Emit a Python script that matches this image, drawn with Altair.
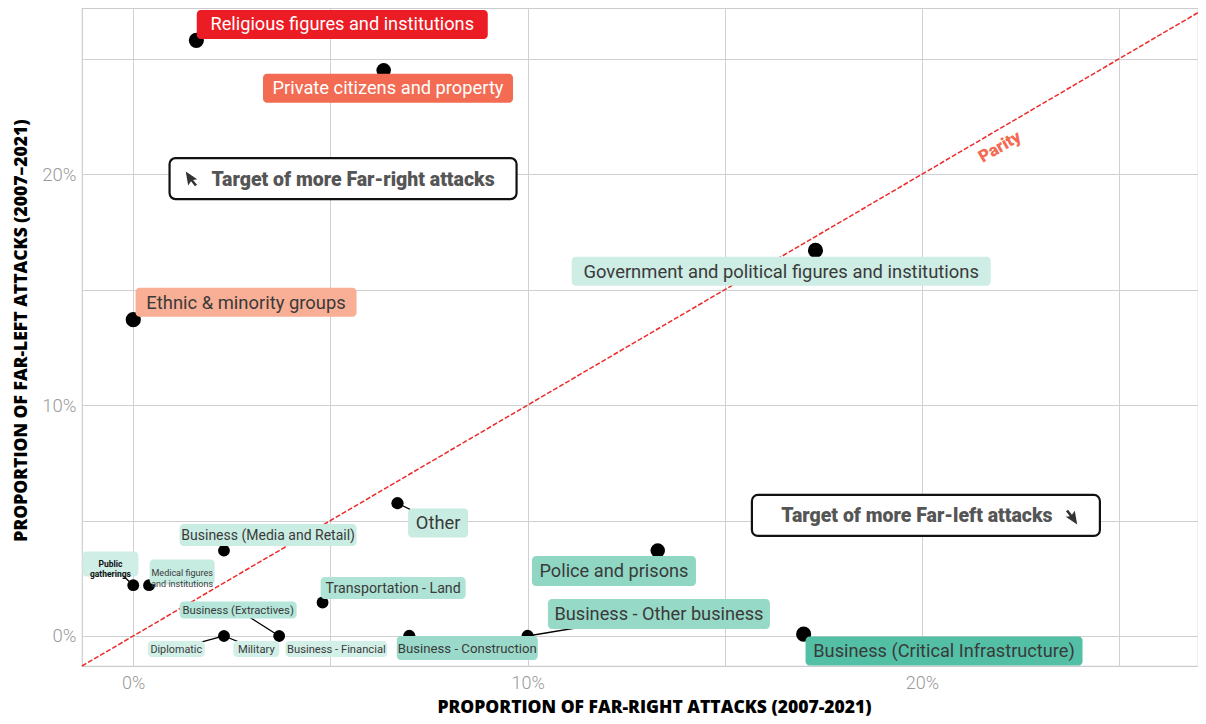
import altair as alt
import pandas as pd

# ---------------- data ----------------
categories = [
    "Religious figures and institutions",
    "Private citizens and property",
    "Ethnic & minority groups",
    "Government and political figures and institutions",
    "Other",
    "Business (Media and Retail)",
    "Public gatherings",
    "Medical figures and institutions",
    "Business (Extractives)",
    "Transportation - Land",
    "Diplomatic",
    "Military",
    "Business - Financial",
    "Business - Construction",
    "Business - Other business",
    "Police and prisons",
    "Business (Critical Infrastructure)",
]
# proportion of far-right attacks (%), x
far_right = [1.6, 6.35, 0.0, 17.3, 6.7, 2.3, 0.0, 0.4, 3.7, 4.8, 2.3, 2.3, 3.7, 7.0, 10.0, 13.3, 17.0]
# proportion of far-left attacks (%), y
far_left = [25.8, 24.5, 13.7, 16.7, 5.75, 3.7, 2.2, 2.2, 0.0, 1.45, 0.0, 0.0, 0.0, 0.0, 0.0, 3.7, 0.08]

# label text shown (line breaks for small two-line labels)
label_text = [
    "Religious figures and institutions",
    "Private citizens and property",
    "Ethnic & minority groups",
    "Government and political figures and institutions",
    "Other",
    "Business (Media and Retail)",
    "Public\ngatherings",
    "Medical figures\nand institutions",
    "Business (Extractives)",
    "Transportation - Land",
    "Diplomatic",
    "Military",
    "Business - Financial",
    "Business - Construction",
    "Business - Other business",
    "Police and prisons",
    "Business (Critical Infrastructure)",
]
# repelled label anchor positions (data units)
label_x = [5.30, 6.46, 2.86, 16.43, 7.73, 3.42, -0.58, 1.24, 2.66, 6.59, 1.09, 3.12, 5.15, 8.47, 13.33, 12.19, 20.56]
label_y = [26.49, 23.72, 14.46, 15.80, 4.89, 4.37, 3.12, 2.77, 1.13, 2.08, -0.56, -0.56, -0.56, -0.52, 0.95, 2.81, -0.65]
draw_segment = [False, False, False, False, True, False, True, False, True, False, True, True, False, False, True, False, False]

# styles
label_fill = ["#EC1C24", "#F26B52", "#F9AF95", "#CDEDE5", "#C8ECE2", "#CAEDE3", "#CFEEE6", "#C6EBE1",
              "#B5E6D9", "#AEE3D5", "#D3F0E8", "#D3F0E8", "#D3F0E8", "#9BDACA", "#97D9C7", "#8FD7C3", "#53C0A6"]
label_color = ["#FFFFFF", "#FFFFFF"] + ["#3A3A3A"] * 15
label_fs = [18.2, 18.3, 18.4, 18.4, 18.3, 14, 8.5, 9, 11.3, 14.2, 10.8, 11.2, 11.2, 13.2, 18.2, 18.2, 18.2]
label_bold = [False] * 6 + [True] + [False] * 10
box_w = [291, 250, 221, 419, 60, 177, 56, 65, 117, 145, 57, 46, 102, 141, 222, 164, 277]
box_h = [29, 29, 29, 29, 29, 22, 25, 25, 17, 22, 16, 16, 16, 24, 30, 30, 29]
point_size = [230, 210, 230, 230, 150, 140, 140, 140, 130, 140, 130, 130, 130, 150, 150, 210, 230]

X_DOMAIN = [-1.3, 27.0]
Y_DOMAIN = [-1.3, 27.2]


def rrect(w, h, r=4):
    x0, y0 = -w / 2, -h / 2
    x1, y1 = w / 2, h / 2
    return (f"M{x0 + r},{y0}H{x1 - r}A{r},{r} 0 0 1 {x1},{y0 + r}V{y1 - r}"
            f"A{r},{r} 0 0 1 {x1 - r},{y1}H{x0 + r}A{r},{r} 0 0 1 {x0},{y1 - r}"
            f"V{y0 + r}A{r},{r} 0 0 1 {x0 + r},{y0}Z")


df = pd.DataFrame({
    "category": categories,
    "far_right": far_right,
    "far_left": far_left,
    "label": label_text,
    "lx": label_x,
    "ly": label_y,
    "seg": draw_segment,
    "bold": label_bold,
    "fill": label_fill,
    "tcol": label_color,
    "fs": label_fs,
    "path": [rrect(w, h) for w, h in zip(box_w, box_h)],
    "psize": point_size,
})

ticks = [0, 5, 10, 15, 20, 25]
label_expr = "datum.value % 10 === 0 ? datum.value + '%' : ''"
TITLE_FONT = "'Open Sans', Lato, sans-serif"

x_axis = alt.Axis(values=ticks, labelExpr=label_expr, grid=True, gridColor="#d0d0d0", gridWidth=1,
                  ticks=False, domain=False, labelFont="Roboto", labelFontSize=18, labelFontWeight=300,
                  labelColor="#9a9a9a", labelPadding=8,
                  title="PROPORTION OF FAR-RIGHT ATTACKS (2007-2021)", titleFont=TITLE_FONT,
                  titleFontSize=17.5, titleFontWeight=800, titleColor="#000000",
                  titleX=572, titleY=41, titleBaseline="middle", titleAlign="center")
y_axis = alt.Axis(values=ticks, labelExpr=label_expr, grid=True, gridColor="#d0d0d0", gridWidth=1,
                  ticks=False, domain=False, labelFont="Roboto", labelFontSize=18.5, labelFontWeight=300,
                  labelColor="#9a9a9a", labelPadding=6,
                  title="PROPORTION OF FAR-LEFT ATTACKS (2007–2021)", titleFont=TITLE_FONT,
                  titleFontSize=17.5, titleFontWeight=800, titleColor="#000000",
                  titleAngle=270, titleX=-61, titleY=322, titleBaseline="middle", titleAlign="center")

xs = alt.Scale(domain=X_DOMAIN, nice=False, zero=False)
ys = alt.Scale(domain=Y_DOMAIN, nice=False, zero=False)


def X(field):
    return alt.X(f"{field}:Q", scale=xs, axis=x_axis)


def Y(field):
    return alt.Y(f"{field}:Q", scale=ys, axis=y_axis)


# parity line
parity_df = pd.DataFrame({"far_right": X_DOMAIN, "far_left": X_DOMAIN})
parity = alt.Chart(parity_df).mark_line(color="#EE2A2A", strokeWidth=1.5, strokeDash=[5, 2]).encode(
    x=X("far_right"), y=Y("far_left"))

parity_lbl = alt.Chart(pd.DataFrame({"far_right": [21.98], "far_left": [21.17], "t": ["Parity"]})).mark_text(
    font="Roboto", fontSize=17, fontWeight=900, color="#F26B52", angle=329.6,
    align="center", baseline="middle").encode(x=X("far_right"), y=Y("far_left"), text="t:N")

segments = alt.Chart(df).transform_filter("datum.seg").mark_rule(color="#000000", strokeWidth=1.3).encode(
    x=X("far_right"), y=Y("far_left"), x2="lx:Q", y2="ly:Q")

points = alt.Chart(df).mark_circle(color="#000000", opacity=1).encode(
    x=X("far_right"), y=Y("far_left"), size=alt.Size("psize:Q", scale=None))

boxes = alt.Chart(df).mark_point(filled=True, size=4, opacity=1, strokeWidth=0).encode(
    x=X("lx"), y=Y("ly"),
    shape=alt.Shape("path:N", scale=None),
    color=alt.Color("fill:N", scale=None))

texts = alt.Chart(df).transform_filter("!datum.bold").mark_text(
    font="Roboto", align="center", baseline="middle", lineBreak="\n", lineHeight=10.5, dy=1).encode(
    x=X("lx"), y=Y("ly"), text="label:N",
    size=alt.Size("fs:Q", scale=None),
    color=alt.Color("tcol:N", scale=None))

texts_bold = alt.Chart(df).transform_filter("datum.bold").mark_text(
    font="Roboto", fontWeight="bold", align="center", baseline="middle", lineBreak="\n",
    lineHeight=10, color="#111111").encode(
    x=X("lx"), y=Y("ly"), text="label:N",
    size=alt.Size("fs:Q", scale=None))

# "Target of more ..." annotations
ann_df = pd.DataFrame({
    "ax": [5.32, 20.10],
    "ay": [19.81, 5.22],
    "t": ["Target of more Far-right attacks", "Target of more Far-left attacks"],
    "path": [rrect(347, 41, 6), rrect(348, 41, 6)],
})
ann_boxes = alt.Chart(ann_df).mark_point(filled=True, size=4, opacity=1, fill="#FFFFFF",
                                         stroke="#111111", strokeWidth=2.2).encode(
    x=X("ax"), y=Y("ay"), shape=alt.Shape("path:N", scale=None))

cursor_path = "M-5,-8L-5,6L-1.5,2.5L1.5,8L3.8,7L0.8,1.5L5,1.5Z"
ann_fr = ann_df.iloc[[0]]
ann_fl = ann_df.iloc[[1]]
txt_fr = alt.Chart(ann_fr).mark_text(font="Roboto", fontSize=19.5, fontWeight=900, color="#555555",
                                     xOffset=10, dy=1, align="center", baseline="middle").encode(
    x=X("ax"), y=Y("ay"), text="t:N")
txt_fl = alt.Chart(ann_fl).mark_text(font="Roboto", fontSize=19.5, fontWeight=900, color="#555555",
                                     xOffset=-9, dy=1, align="center", baseline="middle").encode(
    x=X("ax"), y=Y("ay"), text="t:N")
arr_fr = alt.Chart(ann_fr).mark_point(filled=True, size=4, opacity=1, color="#333333", strokeWidth=0,
                                      shape=cursor_path, angle=350, xOffset=-151, yOffset=0).encode(
    x=X("ax"), y=Y("ay"))
arr_fl = alt.Chart(ann_fl).mark_point(filled=True, size=4, opacity=1, color="#333333", strokeWidth=0,
                                      shape=cursor_path, angle=170, xOffset=145, yOffset=2).encode(
    x=X("ax"), y=Y("ay"))

chart = alt.layer(
    parity, parity_lbl, segments, points, boxes, texts, texts_bold,
    ann_boxes, txt_fr, txt_fl, arr_fr, arr_fl
).properties(
    width=1116, height=658,
    autosize=alt.AutoSizeParams(type="none"),
    padding={"left": 74, "top": 0, "right": 0, "bottom": 50},
).configure_view(stroke="#cccccc", strokeWidth=1.2)

chart.save("out.html", embed_options={"renderer": "svg", "actions": False})
